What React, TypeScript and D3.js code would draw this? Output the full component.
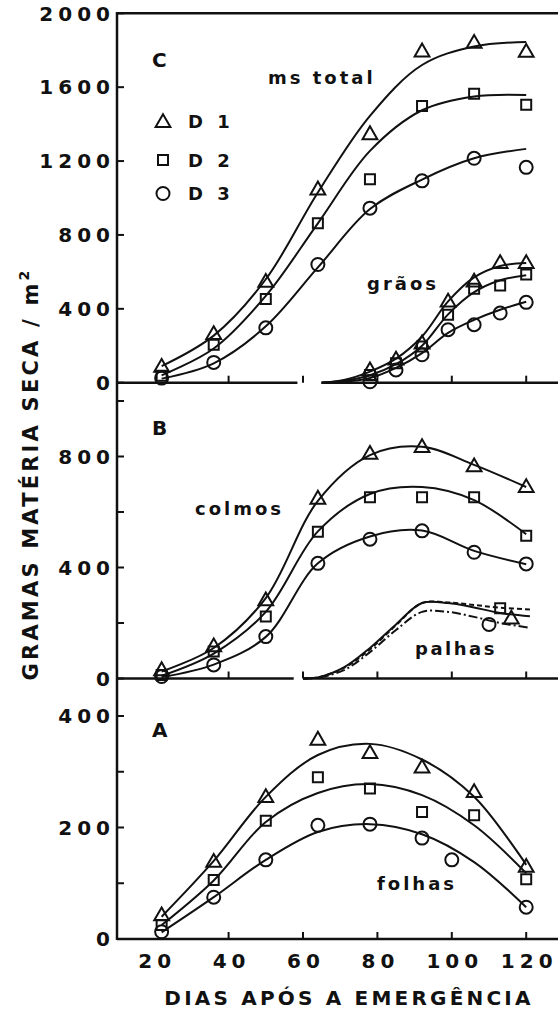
import React from "react";
import * as d3 from "d3";

// sampling days
const days = [22, 36, 50, 64, 78, 92, 106, 120];
const grainDays = [78, 85, 92, 99, 106, 113, 120];
const grainFitDays = [65, 71, 78, 85, 92, 99, 106, 113, 120];
const strawDays = [60, 64, 71, 78, 85, 92, 99, 106, 113, 121];
const leafD3Days = [22, 36, 50, 64, 78, 92, 100, 120];

const seriesNames = ["D 1", "D 2", "D 3"];

// C - ms total
const totalD1 = [88, 265, 548, 1048, 1347, 1795, 1842, 1793];
const totalD2 = [38, 205, 453, 863, 1102, 1498, 1565, 1505];
const totalD3 = [25, 110, 297, 640, 945, 1093, 1215, 1166];
const totalFitD1 = [90, 255, 560, 1030, 1445, 1720, 1820, 1845];
const totalFitD2 = [40, 185, 470, 863, 1255, 1475, 1550, 1558];
const totalFitD3 = [22, 105, 305, 624, 940, 1100, 1215, 1266];

// C - grãos
const grainD1 = [69, 127, 214, 441, 549, 649, 649];
const grainD2 = [42, 105, 196, 368, 508, 526, 586];
const grainD3 = [5, 69, 151, 287, 314, 377, 435];
const grainFitD1 = [0, 15, 60, 130, 250, 440, 570, 632, 648];
const grainFitD2 = [0, 10, 40, 100, 200, 370, 490, 555, 582];
const grainFitD3 = [0, 5, 25, 80, 160, 270, 340, 395, 438];

// B - colmos
const stemD1 = [31, 117, 283, 649, 811, 835, 766, 691];
const stemD2 = [13, 97, 223, 529, 653, 653, 653, 514];
const stemD3 = [7, 49, 151, 415, 502, 532, 455, 413];
const stemFitD1 = [25, 110, 290, 640, 805, 835, 770, 690];
const stemFitD2 = [10, 90, 240, 530, 665, 690, 643, 520];
const stemFitD3 = [5, 50, 150, 415, 512, 533, 460, 412];

// B - palhas
const strawD1 = [0, 4, 40, 110, 195, 272, 272, 256, 236, 224];
const strawD2 = [0, 4, 38, 105, 192, 272, 274, 265, 255, 249];
const strawD3 = [0, 3, 30, 95, 175, 240, 240, 222, 200, 183];
const strawPtDays = [116, 113, 110];
const strawPtVals = [217, 253, 195];

// A - folhas
const leafD1 = [43, 139, 255, 358, 334, 308, 264, 130];
const leafD2 = [25, 106, 212, 290, 270, 228, 222, 107];
const leafD3 = [13, 75, 142, 204, 206, 181, 142, 57];
const leafFitD1 = [40, 140, 255, 330, 350, 322, 255, 133];
const leafFitD2 = [25, 105, 210, 262, 278, 258, 204, 118];
const leafFitD3 = [12, 75, 142, 192, 206, 188, 138, 57];

const xTicks = [20, 40, 60, 80, 100, 120];
const cTicks = [0, 400, 800, 1200, 1600, 2000];
const bTicks = [0, 400, 800];
const bMinor = [200, 600, 1000];
const aTicks = [0, 200, 400];
const aMinor = [100, 300];

const W = 558;
const H = 1011;
const FONT = "'DejaVu Sans', sans-serif";
const INK = "#111";

const x = d3.scaleLinear().domain([10, 130]).range([117, 563.4]);
const yC = d3.scaleLinear().domain([0, 2000]).range([382.7, 13.3]);
const yB = d3.scaleLinear().domain([0, 400]).range([678.5, 567.5]);
const yA = d3.scaleLinear().domain([0, 200]).range([939, 827.5]);

const triPath = d3.symbol().type(d3.symbolTriangle).size(95)() as string;
const sqPath = d3.symbol().type(d3.symbolSquare).size(100)() as string;

const Marker = ({ kind, cx, cy }: { kind: number; cx: number; cy: number }) => {
  if (kind === 0)
    return <path d={triPath} transform={`translate(${cx},${cy + 1})`} fill="none" stroke={INK} strokeWidth={2} />;
  if (kind === 1)
    return <path d={sqPath} transform={`translate(${cx},${cy})`} fill="none" stroke={INK} strokeWidth={2} />;
  return <circle cx={cx} cy={cy} r={6.5} fill="none" stroke={INK} strokeWidth={2} />;
};

const curve = (xs: number[], vs: number[], y: d3.ScaleLinear<number, number>) =>
  d3
    .line<number>()
    .x((_, i) => x(xs[i]))
    .y((v) => y(v))
    .curve(d3.curveCatmullRom.alpha(0.5))(vs) as string;

const Fit = ({ xs, vs, y, dash }: { xs: number[]; vs: number[]; y: any; dash?: string }) => (
  <path d={curve(xs, vs, y)} fill="none" stroke={INK} strokeWidth={2} strokeDasharray={dash} />
);

const Points = ({ xs, vs, y, kind }: { xs: number[]; vs: number[]; y: any; kind: number }) => (
  <g>
    {vs.map((v, i) => (
      <Marker key={i} kind={kind} cx={x(xs[i])} cy={y(v)} />
    ))}
  </g>
);

const numStyle = { fontFamily: FONT, fontSize: 20, fontWeight: 700, letterSpacing: 5, fill: INK } as const;
const wordStyle = { fontFamily: FONT, fontSize: 18, fontWeight: 700, letterSpacing: 3, fill: INK } as const;

const YAxis = ({ y, ticks, minor }: { y: any; ticks: number[]; minor?: number[] }) => (
  <g>
    {ticks.map((t) => (
      <g key={t}>
        <line x1={117} x2={124} y1={y(t)} y2={y(t)} stroke={INK} strokeWidth={2} />
        <text x={115} y={y(t)} dy="0.36em" textAnchor="end" style={numStyle}>
          {t}
        </text>
      </g>
    ))}
    {(minor || []).map((t) => (
      <line key={t} x1={117} x2={124} y1={y(t)} y2={y(t)} stroke={INK} strokeWidth={2} />
    ))}
  </g>
);

const Baseline = ({ yv, gap }: { yv: number; gap?: number[] }) => (
  <g>
    {gap ? (
      <>
        <line x1={117} x2={x(gap[0])} y1={yv} y2={yv} stroke={INK} strokeWidth={2.5} />
        <line x1={x(gap[1])} x2={W} y1={yv} y2={yv} stroke={INK} strokeWidth={2.5} />
      </>
    ) : (
      <line x1={117} x2={W} y1={yv} y2={yv} stroke={INK} strokeWidth={2.5} />
    )}
    {xTicks.slice(1).map((t) => (
      <line key={t} x1={x(t)} x2={x(t)} y1={yv} y2={yv - 7} stroke={INK} strokeWidth={2} />
    ))}
  </g>
);

export default function App() {
  const totalPts = [totalD1, totalD2, totalD3];
  const totalFits = [totalFitD1, totalFitD2, totalFitD3];
  const grainPts = [grainD1, grainD2, grainD3];
  const grainFits = [grainFitD1, grainFitD2, grainFitD3];
  const stemPts = [stemD1, stemD2, stemD3];
  const stemFits = [stemFitD1, stemFitD2, stemFitD3];
  const strawFits = [strawD1, strawD2, strawD3];
  const strawDash = [undefined, "5,3", "9,3,2,3"];
  const leafPts = [leafD1, leafD2, leafD3];
  const leafDays = [days, days, leafD3Days];
  const leafFits = [leafFitD1, leafFitD2, leafFitD3];

  return (
    <svg width={W} height={H} style={{ position: "absolute", left: 0, top: 0, background: "#fff" }}>
      <rect width={W} height={H} fill="#fff" />

      {/* frame */}
      <line x1={117} x2={117} y1={12} y2={940} stroke={INK} strokeWidth={2.5} />
      <line x1={117} x2={W} y1={13.3} y2={13.3} stroke={INK} strokeWidth={2.5} />
      <Baseline yv={yC(0)} gap={[58.5, 65]} />
      <Baseline yv={yB(0)} gap={[57.5, 60]} />
      <Baseline yv={yA(0)} />

      <YAxis y={yC} ticks={cTicks} />
      <YAxis y={yB} ticks={bTicks} minor={bMinor} />
      <YAxis y={yA} ticks={aTicks} minor={aMinor} />

      {xTicks.map((t) => (
        <text key={t} x={x(t) + 3} y={968} textAnchor="middle" style={numStyle}>
          {t}
        </text>
      ))}

      <text
        x={349}
        y={1005}
        textAnchor="middle"
        style={{ fontFamily: FONT, fontSize: 20, fontWeight: 700, letterSpacing: 3.2, fill: INK }}
      >
        DIAS APÓS A EMERGÊNCIA
      </text>
      <text
        transform="translate(38,474) rotate(-90)"
        textAnchor="middle"
        style={{ fontFamily: FONT, fontSize: 21, fontWeight: 700, letterSpacing: 3.2, fill: INK }}
      >
        GRAMAS MATÉRIA SECA / m<tspan dy={-9} fontSize={14}>2</tspan>
      </text>

      {/* panel letters */}
      <text x={152} y={67} style={{ fontFamily: FONT, fontSize: 20, fontWeight: 700, fill: INK }}>C</text>
      <text x={152} y={435} style={{ fontFamily: FONT, fontSize: 20, fontWeight: 700, fill: INK }}>B</text>
      <text x={152} y={737} style={{ fontFamily: FONT, fontSize: 20, fontWeight: 700, fill: INK }}>A</text>

      {/* legend */}
      {seriesNames.map((s, i) => {
        const ly = [121.7, 160, 193.5][i];
        return (
          <g key={s}>
            <Marker kind={i} cx={163} cy={ly} />
            <text x={188} y={ly + 6.5} style={{ ...numStyle, fontSize: 18, letterSpacing: 4 }}>
              {s}
            </text>
          </g>
        );
      })}

      {/* panel C */}
      {totalFits.map((vs, i) => (
        <Fit key={"tf" + i} xs={days} vs={vs} y={yC} />
      ))}
      {totalPts.map((vs, i) => (
        <Points key={"tp" + i} xs={days} vs={vs} y={yC} kind={i} />
      ))}
      {grainFits.map((vs, i) => (
        <Fit key={"gf" + i} xs={grainFitDays} vs={vs} y={yC} />
      ))}
      {grainPts.map((vs, i) => (
        <Points key={"gp" + i} xs={grainDays} vs={vs} y={yC} kind={i} />
      ))}
      <text x={268} y={84} style={wordStyle}>ms total</text>
      <text x={367} y={290} style={wordStyle}>grãos</text>

      {/* panel B */}
      {stemFits.map((vs, i) => (
        <Fit key={"sf" + i} xs={days} vs={vs} y={yB} />
      ))}
      {stemPts.map((vs, i) => (
        <Points key={"sp" + i} xs={days} vs={vs} y={yB} kind={i} />
      ))}
      {strawFits.map((vs, i) => (
        <Fit key={"pf" + i} xs={strawDays} vs={vs} y={yB} dash={strawDash[i]} />
      ))}
      {strawPtVals.map((v, i) => (
        <Marker key={"pp" + i} kind={i} cx={x(strawPtDays[i])} cy={yB(v)} />
      ))}
      <text x={195} y={515} style={wordStyle}>colmos</text>
      <text x={415} y={655} style={{ ...wordStyle, letterSpacing: 2.5 }}>palhas</text>

      {/* panel A */}
      {leafFits.map((vs, i) => (
        <Fit key={"lf" + i} xs={days} vs={vs} y={yA} />
      ))}
      {leafPts.map((vs, i) => (
        <Points key={"lp" + i} xs={leafDays[i]} vs={vs} y={yA} kind={i} />
      ))}
      <text x={377} y={890} style={wordStyle}>folhas</text>
    </svg>
  );
}
